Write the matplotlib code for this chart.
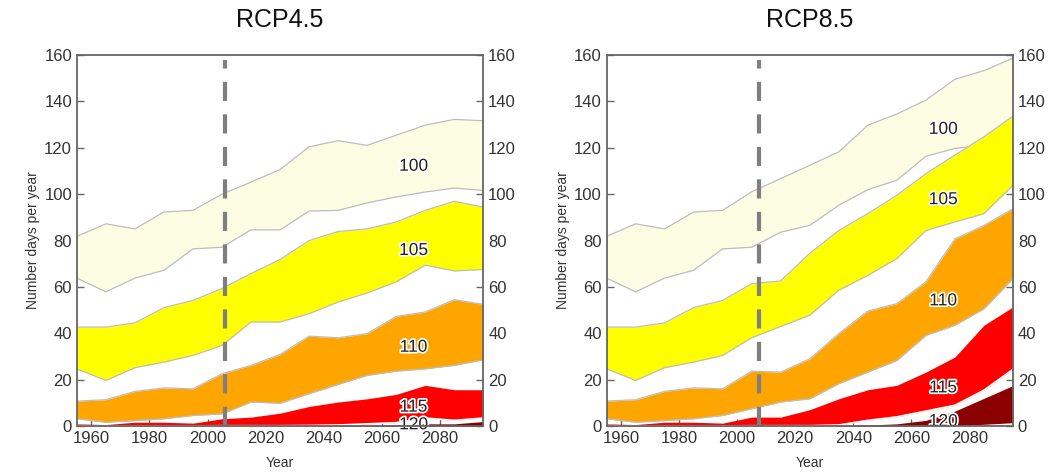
import matplotlib
matplotlib.use('Agg')
import matplotlib.pyplot as plt
import matplotlib.patheffects as pe
import numpy as np

plt.rcParams['font.family'] = ['Liberation Sans', 'DejaVu Sans']

years = [1955, 1965, 1975, 1985, 1995, 2005, 2015, 2025, 2035, 2045, 2055, 2065, 2075, 2085, 2095]
thresholds = ['100', '105', '110', '115', '120']
band_colors = ['#fdfde3', '#ffff00', '#ffa500', '#ff0000', '#8b0000']

# RCP4.5 band edges (days per year)
rcp45_lo = {
    '100': [63.8, 57.9, 63.8, 67.2, 76.4, 77.1, 84.6, 84.6, 92.7, 93.0, 96.2, 98.8, 100.9, 102.6, 101.6],
    '105': [24.7, 19.7, 25.2, 27.6, 30.5, 34.8, 44.9, 44.9, 48.5, 53.5, 57.4, 62.2, 69.4, 66.9, 67.5],
    '110': [3.2, 1.7, 2.4, 3.2, 4.6, 5.3, 10.4, 9.9, 14.0, 18.0, 21.9, 23.7, 24.7, 26.2, 28.6],
    '115': [0.2, 0.1, 0.1, 0.1, 0.1, 0.2, 0.2, 0.2, 0.3, 0.5, 1.0, 1.5, 3.5, 2.5, 3.5],
    '120': [0, 0, 0, 0, 0, 0, 0, 0, 0, 0, 0, 0, 0, 0, 0],
}
rcp45_hi = {
    '100': [81.8, 87.2, 85.0, 92.3, 93.0, 100.0, 105.2, 110.6, 120.4, 123.0, 121.0, 125.4, 129.7, 132.2, 131.6],
    '105': [42.7, 42.7, 44.5, 51.1, 54.2, 59.3, 65.8, 71.8, 80.0, 83.9, 85.0, 88.0, 93.0, 96.9, 94.4],
    '110': [10.8, 11.4, 15.0, 16.5, 16.1, 22.6, 26.2, 30.9, 38.8, 38.1, 39.9, 47.3, 49.2, 54.5, 52.5],
    '115': [1.0, 0.7, 1.7, 1.7, 1.3, 3.2, 3.9, 5.6, 8.5, 10.4, 11.8, 13.7, 17.6, 15.7, 15.7],
    '120': [0, 0, 0, 0, 0, 0, 0, 0, 0.1, 0.2, 0.3, 0.5, 1.0, 1.0, 2.0],
}

# RCP8.5 band edges (days per year)
rcp85_lo = {
    '100': [63.8, 57.9, 63.8, 67.2, 76.4, 77.1, 83.6, 86.5, 95.2, 101.9, 106.0, 116.3, 119.7, 121.1, 125.0],
    '105': [24.7, 19.7, 25.2, 27.6, 30.5, 38.1, 43.0, 47.8, 58.6, 65.0, 72.2, 84.3, 88.0, 91.6, 103.8],
    '110': [3.2, 1.7, 2.4, 3.2, 4.6, 7.5, 10.4, 11.8, 18.3, 23.3, 28.3, 39.1, 43.5, 50.6, 63.6],
    '115': [0.2, 0.1, 0.1, 0.1, 0.1, 0.2, 0.2, 0.2, 0.5, 2.5, 4.0, 6.5, 9.0, 15.5, 24.5],
    '120': [0, 0, 0, 0, 0, 0, 0, 0, 0, 0, 0, 0, 0.3, 0.8, 1.5],
}
rcp85_hi = {
    '100': [81.8, 87.2, 85.0, 92.3, 93.0, 101.0, 106.7, 112.4, 118.2, 129.7, 134.5, 140.5, 149.5, 153.2, 158.6],
    '105': [42.7, 42.7, 44.5, 51.1, 54.2, 61.4, 62.6, 74.5, 84.3, 91.6, 99.5, 108.8, 116.8, 124.7, 133.6],
    '110': [10.8, 11.4, 15.0, 16.5, 16.1, 23.7, 23.3, 29.0, 39.9, 49.6, 52.8, 62.2, 80.7, 86.5, 93.7],
    '115': [1.0, 0.7, 1.7, 1.7, 1.3, 3.9, 3.9, 7.1, 11.8, 15.7, 17.6, 23.3, 29.8, 43.5, 51.4],
    '120': [0, 0, 0, 0, 0, 0, 0, 0, 0.2, 0.5, 1.0, 2.5, 6.5, 12.0, 17.5],
}

label_pos_45 = {'100': 112, '105': 75.7, '110': 34, '115': 8.2, '120': 0.6}
label_pos_85 = {'100': 127.9, '105': 97.6, '110': 54, '115': 16.5, '120': 2.0}

panels = [
    ('RCP4.5', rcp45_lo, rcp45_hi, label_pos_45, 2006),
    ('RCP8.5', rcp85_lo, rcp85_hi, label_pos_85, 2007.5),
]

fig = plt.figure(figsize=(10.53, 4.73), dpi=100)
axes = [fig.add_axes([0.073, 0.099, 0.386, 0.785]),
        fig.add_axes([0.576, 0.099, 0.386, 0.785])]

spine_col = '#666666'
text_col = '#333333'

for ax, (title, lo, hi, lab, split_year) in zip(axes, panels):
    z = 2
    for thr, col in zip(thresholds, band_colors):
        ax.fill_between(years, lo[thr], hi[thr], color=col, lw=0, zorder=z)
        if thr in ('100', '105', '110'):
            ax.plot(years, lo[thr], color='#bdbdbd', lw=0.9, zorder=z + 0.1)
            ax.plot(years, hi[thr], color='#bdbdbd', lw=0.9, zorder=z + 0.1)
        if thr == '115':
            ax.plot(years, lo[thr], color='white', lw=1.2, zorder=z + 0.1)
        z += 0.2
    for thr in thresholds:
        ax.text(2071, lab[thr], thr, ha='center', va='center', fontsize=12.5,
                color='#222222', zorder=5,
                path_effects=[pe.withStroke(linewidth=2.5, foreground='white')])

    ax.axvline(split_year, ymin=0, ymax=0.985, color='#7f7f7f', lw=3,
               dashes=(4.6, 3.2), zorder=4)

    ax.set_xlim(1955, 2095)
    ax.set_ylim(0, 160)
    ax.set_xticks([1960, 1980, 2000, 2020, 2040, 2060, 2080])
    ax.set_yticks(np.arange(0, 161, 20))
    ax.tick_params(direction='in', length=5, width=1, colors=spine_col,
                   labelcolor=text_col, labelsize=12,
                   left=True, right=True, labelleft=True, labelright=True,
                   top=False, bottom=True)
    for s in ax.spines.values():
        s.set_color(spine_col)
        s.set_linewidth(1.3)
        s.set_zorder(6)
    ax.set_title(title, fontsize=18, color='#111111', pad=20)
    ax.set_ylabel('Number days per year', fontsize=10, color=text_col, labelpad=3)
    ax.set_xlabel('Year', fontsize=10, color=text_col, labelpad=7)

fig.savefig('out.png', dpi=100)
